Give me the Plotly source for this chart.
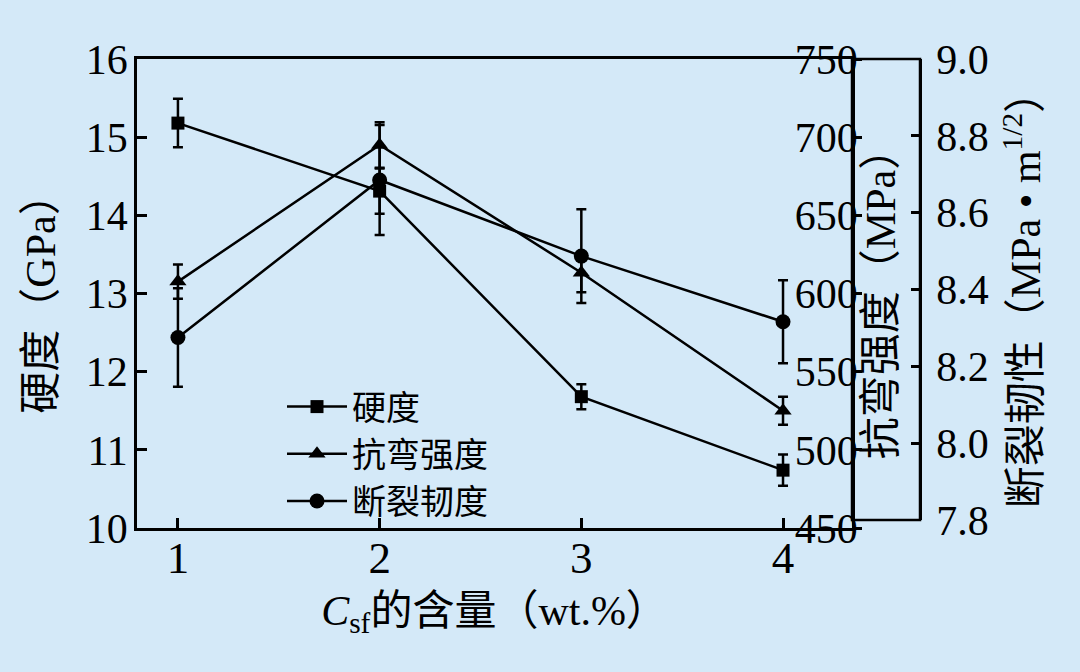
import plotly.graph_objects as go

# ---- data ----
content = [1, 2, 3, 4]
hardness = [15.18, 14.31, 11.68, 10.74]
hardness_err = [0.31, 0.29, 0.16, 0.20]
flexural = [607.6, 695.0, 613.3, 525.0]
flexural_err = [11.0, 14.5, 12.5, 9.0]
toughness = [8.275, 8.685, 8.487, 8.316]
toughness_err = [0.128, 0.143, 0.122, 0.108]

names = ["硬度", "抗弯强度", "断裂韧度"]
x_ticks = [1, 2, 3, 4]

BG = "#d4e9f8"
FONT = "Liberation Serif, 'Noto Sans CJK SC', serif"
LW = 2.5

W, H = 1080, 672
L, R, T, B = 137, 160, 59, 144
plot_w = W - L - R
plot_h = H - T - B
main_right = 852
x_dom_end = (main_right - L) / plot_w
box_bottom_frac = (528 - 520) / plot_h

xr = [0.797, 4.342]

def ebar(arr):
    return dict(type="data", array=arr, visible=True, color="black",
                thickness=LW, width=5)

fig = go.Figure()
fig.add_trace(go.Scatter(
    x=content, y=hardness, name=names[0], mode="lines+markers",
    line=dict(color="black", width=LW),
    marker=dict(symbol="square", size=13, color="black"),
    error_y=ebar(hardness_err), xaxis="x", yaxis="y"))
fig.add_trace(go.Scatter(
    x=content, y=flexural, name=names[1], mode="lines+markers",
    line=dict(color="black", width=LW),
    marker=dict(symbol="triangle-up", size=15, color="black"),
    error_y=ebar(flexural_err), xaxis="x", yaxis="y2"))
fig.add_trace(go.Scatter(
    x=content, y=toughness, name=names[2], mode="lines+markers",
    line=dict(color="black", width=LW),
    marker=dict(symbol="circle", size=15, color="black"),
    error_y=ebar(toughness_err), xaxis="x2", yaxis="y3"))

tickfont = dict(family=FONT, size=42, color="black")
xtickfont = dict(family=FONT, size=45, color="black")
titlefont = dict(family=FONT, size=42, color="black")

fig.update_layout(
    width=W, height=H,
    margin=dict(l=L, r=R, t=T, b=B),
    paper_bgcolor=BG, plot_bgcolor="rgba(0,0,0,0)",
    showlegend=True,
    legend=dict(x=(282 - L) / plot_w, y=(528 - 378) / plot_h,
                xanchor="left", yanchor="top",
                bgcolor="rgba(0,0,0,0)",
                font=dict(family=FONT, size=34, color="black"),
                itemwidth=60, tracegroupgap=0),
    xaxis=dict(domain=[0, x_dom_end], range=xr, tickvals=x_ticks,
               showline=True, linecolor="black", linewidth=LW, mirror=True,
               ticks="inside", ticklen=10, tickwidth=LW, tickcolor="black",
               tickfont=xtickfont, showgrid=False, zeroline=False,
               ticklabelstandoff=-12, automargin=False,
               title=dict(text="<i>C</i><sub>sf</sub>的含量（wt.%）",
                          font=titlefont, standoff=14)),
    xaxis2=dict(domain=[0, x_dom_end], range=xr, visible=False,
                anchor="y3"),
    yaxis=dict(range=[10, 16], dtick=1, showline=True, linecolor="black",
               linewidth=LW, ticks="inside", ticklen=10, tickwidth=LW,
               tickcolor="black", tickfont=tickfont, showgrid=False,
               zeroline=False, ticklabelstandoff=-2, automargin=False,
               title=dict(text="硬度（GPa）", font=titlefont, standoff=18)),
    yaxis2=dict(range=[450, 750], dtick=50, overlaying="y", side="right",
                anchor="x", showline=True, linecolor="black", linewidth=LW,
                ticks="outside", ticklen=7, tickwidth=LW, tickcolor="black",
                ticklabelposition="inside", ticklabeloverflow="allow",
                tickfont=tickfont, showgrid=False, zeroline=False,
                automargin=False,
                title=dict(text="抗弯强度（MPa）", font=titlefont, standoff=2)),
    yaxis3=dict(range=[7.8, 9.0], dtick=0.2, tickformat=".1f",
                domain=[box_bottom_frac, 1], anchor="free", position=1.0,
                side="right", showline=True, linecolor="black",
                linewidth=LW, ticks="inside", ticklen=8, tickwidth=LW,
                tickcolor="black", tickfont=tickfont, showgrid=False,
                zeroline=False, ticklabelstandoff=6, automargin=False,
                title=dict(text="断裂韧性（MPa • m<sup>1/2</sup>）",
                           font=titlefont, standoff=22)),
)

# box between the two right-hand axes
fig.add_shape(type="rect", xref="paper", yref="paper",
              x0=x_dom_end, x1=1.0, y0=box_bottom_frac, y1=1.0,
              line=dict(color="black", width=LW), fillcolor="rgba(0,0,0,0)",
              layer="below")

fig.write_html(
    "out.html",
    config={"displayModeBar": False},
    post_script=("document.body.style.margin='0';"
                 "document.body.style.background='" + BG + "';"),
)
